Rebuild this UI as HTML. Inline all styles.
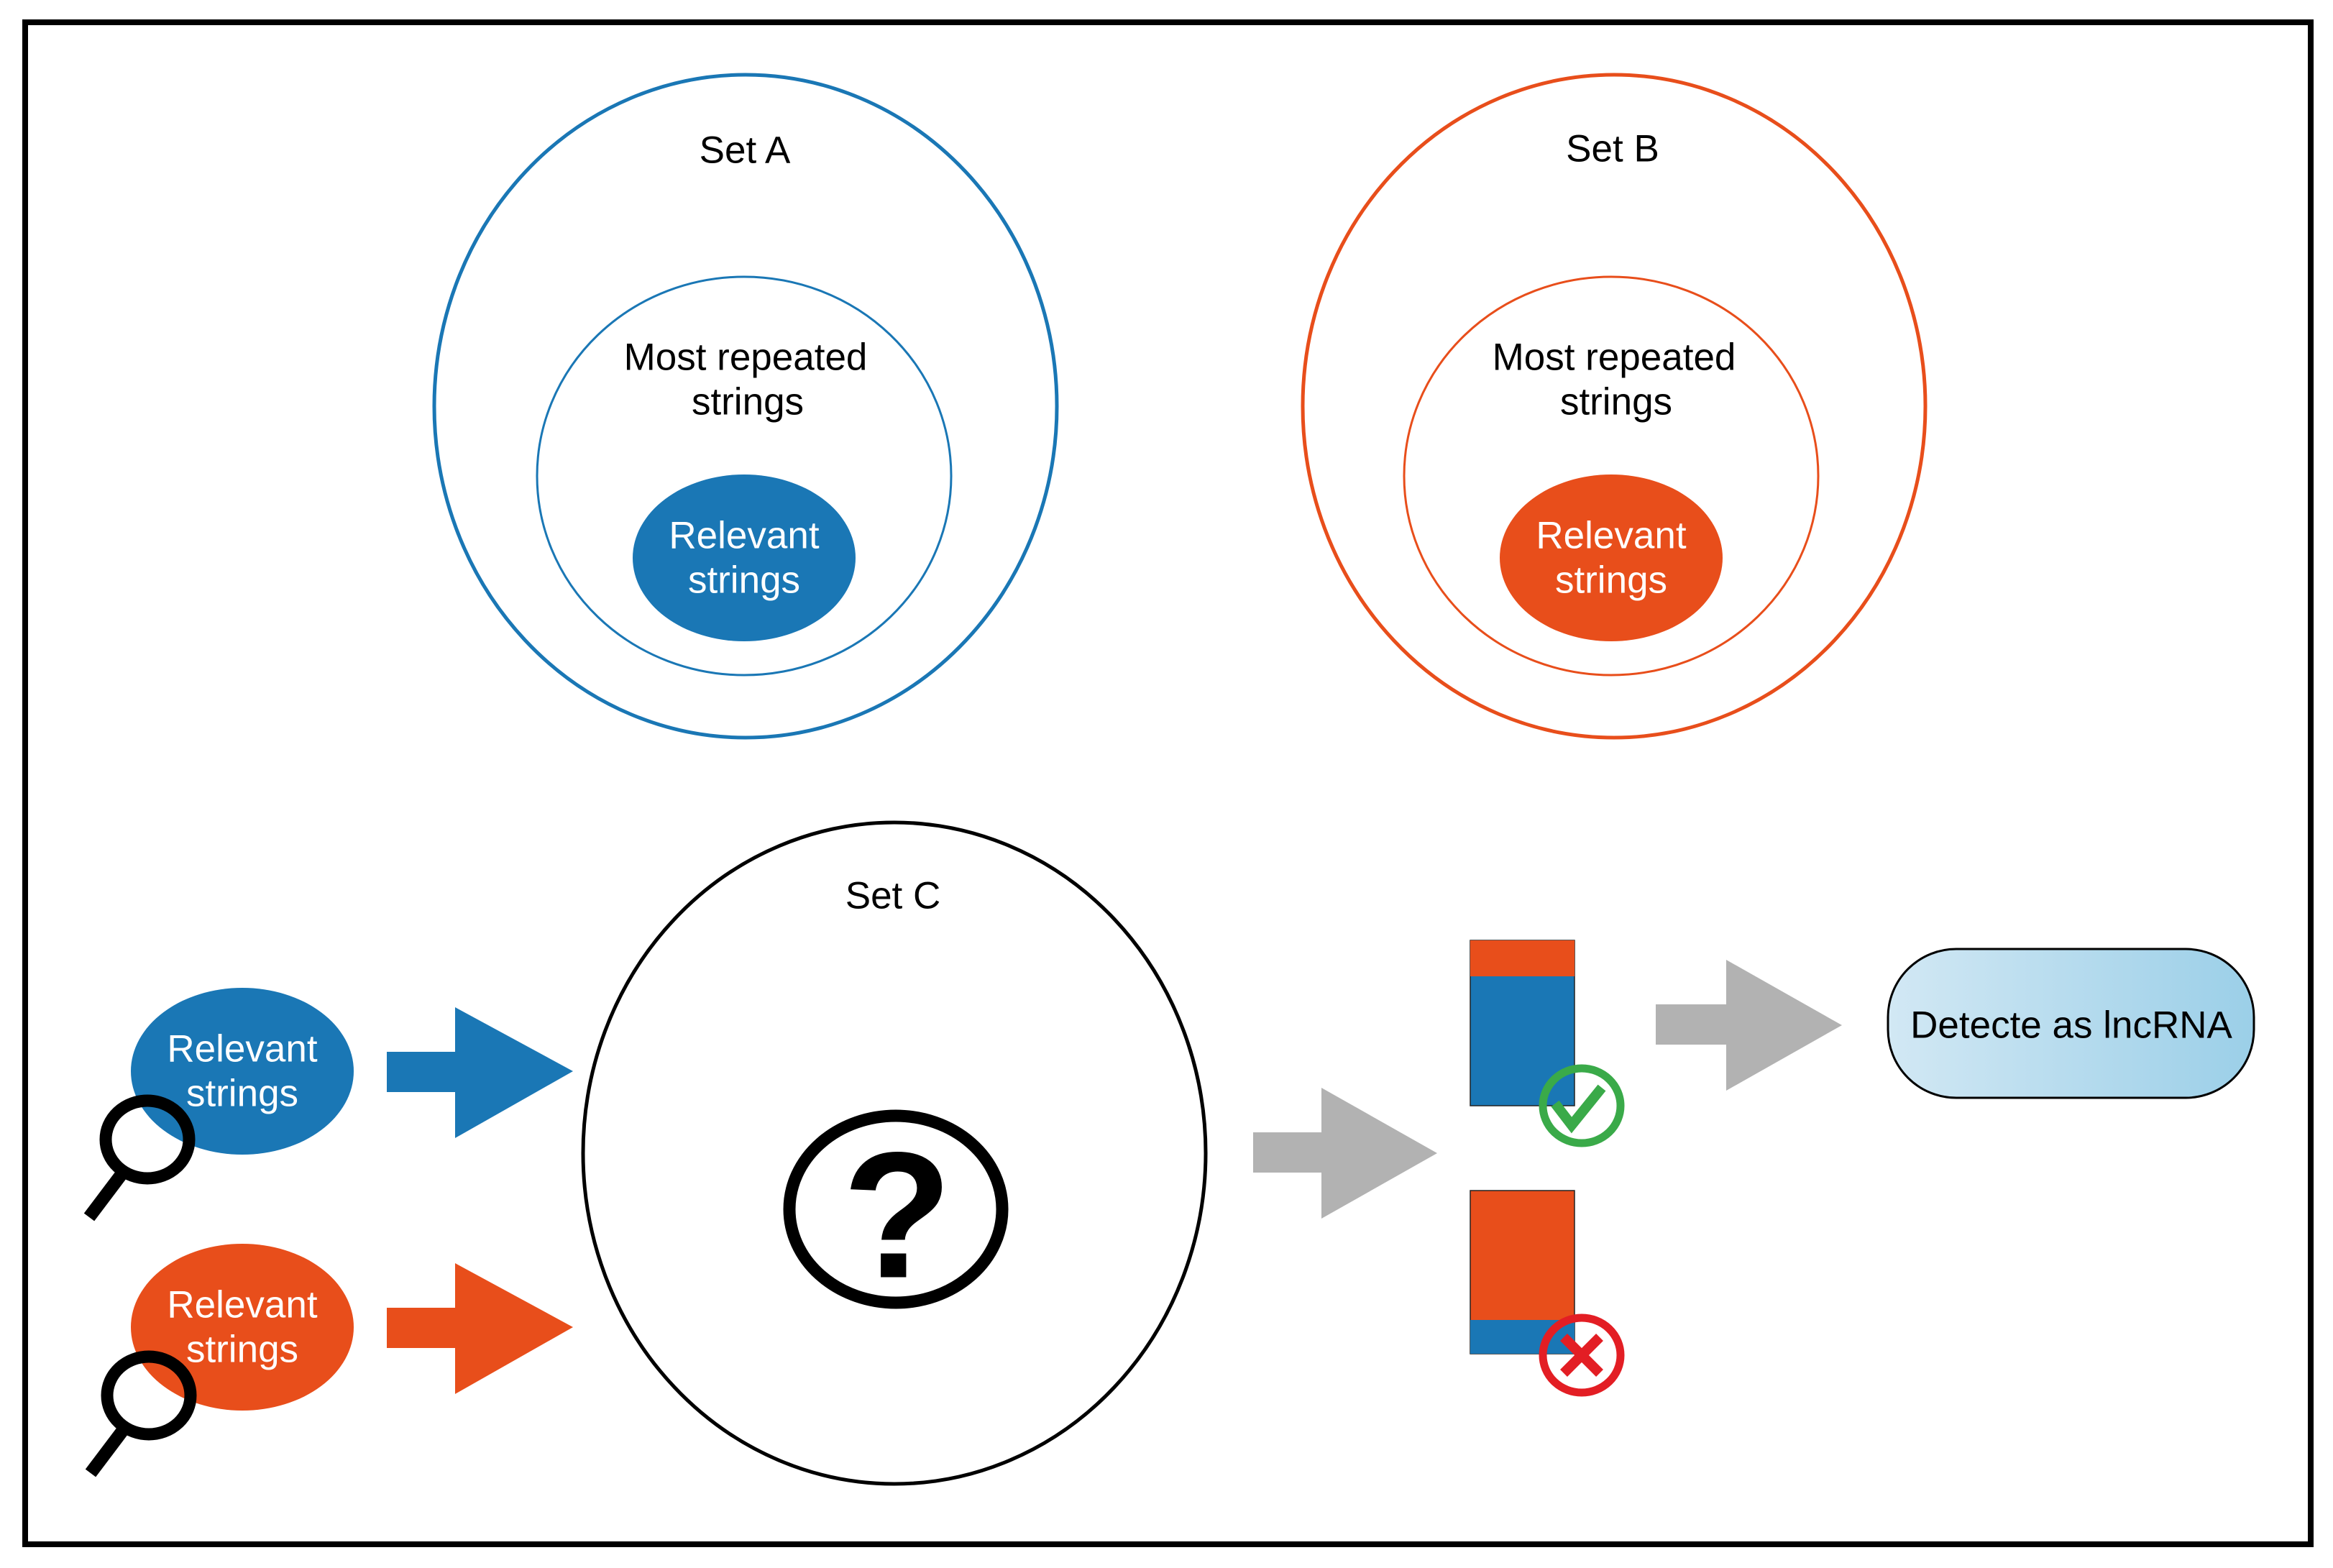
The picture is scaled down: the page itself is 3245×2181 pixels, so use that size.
<!DOCTYPE html>
<html><head><meta charset="utf-8"><style>
html,body{margin:0;padding:0;background:#fff}
svg{display:block}
text{font-family:"Liberation Sans",sans-serif;font-size:53px;text-anchor:middle;dominant-baseline:central}
</style></head><body>
<svg width="3245" height="2181" viewBox="0 0 3245 2181" xmlns="http://www.w3.org/2000/svg">
<defs>
<linearGradient id="g" x1="0" x2="1" y1="0" y2="0"><stop offset="0" stop-color="#d2e8f4"/><stop offset="1" stop-color="#9bcfe8"/></linearGradient>
</defs>
<rect x="35" y="31" width="3179" height="2117" fill="#fff" stroke="#000" stroke-width="8"/>

<ellipse cx="1037" cy="565" rx="433" ry="461" fill="none" stroke="#1a77b5" stroke-width="5"/>
<ellipse cx="1035" cy="662" rx="288" ry="277" fill="none" stroke="#1a77b5" stroke-width="3"/>
<ellipse cx="1035" cy="776" rx="155" ry="116" fill="#1a77b5"/>
<text x="1036" y="209">Set A</text>
<text x="1037" y="497">Most repeated</text>
<text x="1040" y="559">strings</text>
<text x="1035" y="745" fill="#fff">Relevant</text>
<text x="1035" y="807" fill="#fff">strings</text>

<ellipse cx="2245" cy="565" rx="433" ry="461" fill="none" stroke="#e84e1b" stroke-width="5"/>
<ellipse cx="2241" cy="662" rx="288" ry="277" fill="none" stroke="#e84e1b" stroke-width="3"/>
<ellipse cx="2241" cy="776" rx="155" ry="116" fill="#e84e1b"/>
<text x="2243" y="207">Set B</text>
<text x="2245" y="497">Most repeated</text>
<text x="2248" y="559">strings</text>
<text x="2241" y="745" fill="#fff">Relevant</text>
<text x="2241" y="807" fill="#fff">strings</text>

<ellipse cx="1244" cy="1604" rx="433" ry="460" fill="none" stroke="#000" stroke-width="5"/>
<text x="1242" y="1246">Set C</text>
<ellipse cx="1246" cy="1682" rx="148" ry="130" fill="none" stroke="#000" stroke-width="17"/>
<text x="1248" y="1690" style="font-size:250px;font-weight:bold">?</text>

<ellipse cx="337" cy="1490" rx="155" ry="116" fill="#1a77b5"/>
<text x="337" y="1459" fill="#fff">Relevant</text>
<text x="337" y="1521" fill="#fff">strings</text>
<ellipse cx="337" cy="1846" rx="155" ry="116" fill="#e84e1b"/>
<text x="337" y="1815" fill="#fff">Relevant</text>
<text x="337" y="1877" fill="#fff">strings</text>

<ellipse cx="205" cy="1585" rx="58" ry="54" fill="none" stroke="#000" stroke-width="17"/>
<line x1="170" y1="1632" x2="124" y2="1693" stroke="#000" stroke-width="18"/>
<ellipse cx="207" cy="1941" rx="58" ry="54" fill="none" stroke="#000" stroke-width="17"/>
<line x1="172" y1="1988" x2="126" y2="2049" stroke="#000" stroke-width="18"/>

<rect x="538" y="1463" width="96" height="56" fill="#1a77b5"/>
<polygon points="633,1401 797,1490 633,1583" fill="#1a77b5"/>
<rect x="538" y="1819" width="96" height="56" fill="#e84e1b"/>
<polygon points="633,1757 797,1846 633,1939" fill="#e84e1b"/>

<rect x="1743" y="1575" width="96" height="56" fill="#b2b2b2"/>
<polygon points="1838,1513 1999,1604 1838,1695" fill="#b2b2b2"/>
<rect x="2303" y="1397" width="99" height="56" fill="#b2b2b2"/>
<polygon points="2401,1335 2562,1426 2401,1517" fill="#b2b2b2"/>

<rect x="2045" y="1308" width="145" height="230" fill="#1a77b5" stroke="#222" stroke-width="1.5"/>
<rect x="2045" y="1308" width="145" height="50" fill="#e84e1b"/>
<rect x="2045" y="1656" width="145" height="227" fill="#e84e1b" stroke="#222" stroke-width="1.5"/>
<rect x="2045" y="1836" width="145" height="47" fill="#1a77b5"/>

<ellipse cx="2200" cy="1538" rx="54" ry="52" fill="none" stroke="#3aaa49" stroke-width="11"/>
<polyline points="2163,1535 2186,1565 2228,1513" fill="none" stroke="#3aaa49" stroke-width="14"/>
<ellipse cx="2200" cy="1885" rx="54" ry="52" fill="none" stroke="#e31e24" stroke-width="11"/>
<line x1="2175" y1="1860" x2="2225" y2="1910" stroke="#e31e24" stroke-width="14"/>
<line x1="2225" y1="1860" x2="2175" y2="1910" stroke="#e31e24" stroke-width="14"/>

<rect x="2626" y="1320" width="509" height="207" rx="95" ry="95" fill="url(#g)" stroke="#000" stroke-width="3"/>
<text x="2881" y="1426">Detecte as lncRNA</text>
</svg>
</body></html>
